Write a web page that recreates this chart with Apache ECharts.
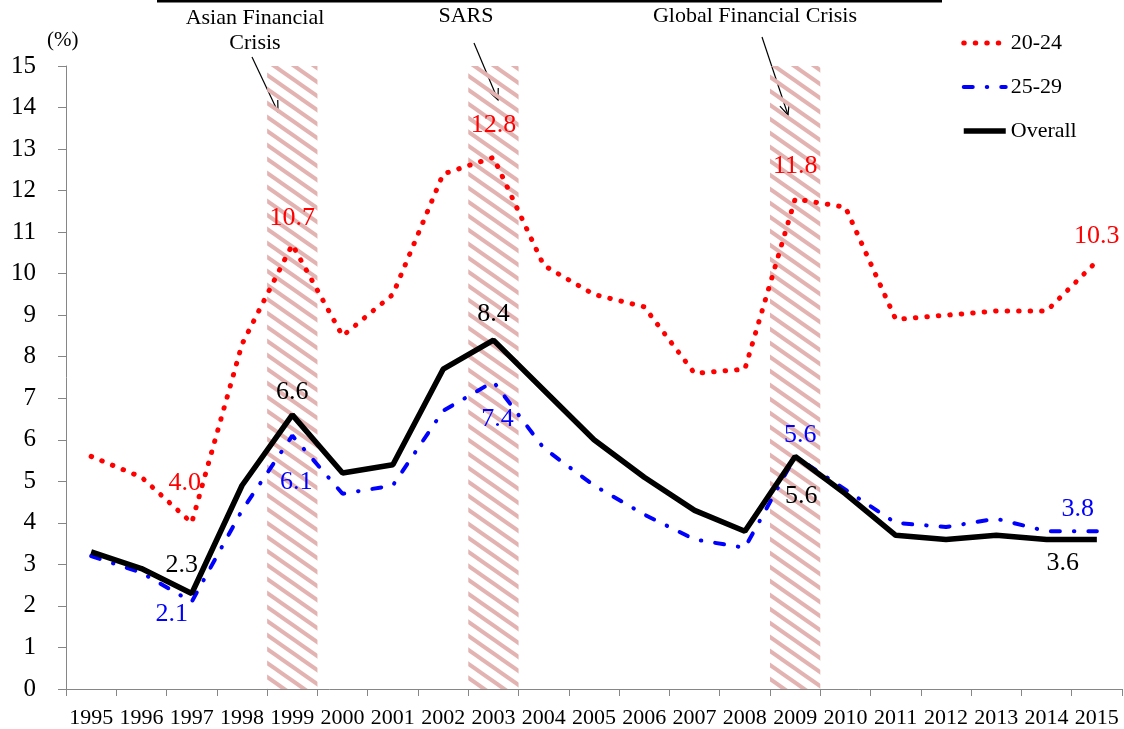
<!DOCTYPE html>
<html>
<head>
<meta charset="utf-8">
<script src="https://cdn.jsdelivr.net/npm/echarts@6/dist/echarts.min.js"></script>
<style>
html,body{margin:0;padding:0;background:#fff;}
#chart{width:1124px;height:729px;}
</style>
</head>
<body>
<div id="chart"></div>
<script>
// ---- data ----
const years = ['1995','1996','1997','1998','1999','2000','2001','2002','2003','2004','2005','2006','2007','2008','2009','2010','2011','2012','2013','2014','2015'];
const rate2024 = [5.6, 5.1, 4.0, 8.3, 10.7, 8.5, 9.5, 12.4, 12.8, 10.2, 9.5, 9.2, 7.6, 7.7, 11.8, 11.6, 8.9, 9.0, 9.1, 9.1, 10.3];
const rate2529 = [3.2, 2.8, 2.1, 4.3, 6.1, 4.7, 4.9, 6.7, 7.4, 5.8, 4.9, 4.2, 3.6, 3.4, 5.6, 4.8, 4.0, 3.9, 4.1, 3.8, 3.8];
const rateAll  = [3.3, 2.9, 2.3, 4.9, 6.6, 5.2, 5.4, 7.7, 8.4, 7.2, 6.0, 5.1, 4.3, 3.8, 5.6, 4.7, 3.7, 3.6, 3.7, 3.6, 3.6];
const crisisYears = ['1999', '2003', '2009'];
const seriesNames = ['20-24', '25-29', 'Overall'];
const yTicks = { min: 0, max: 15, interval: 1 };

// ---- label placement (style only) ----
const FONT = 'Liberation Serif, Times New Roman, serif';
const labelOffsets2024 = { 2: [-7, -40], 4: [0, -26], 8: [0, -32], 14: [0, -33], 20: [0, -25] };
const labelOffsets2529 = { 2: [-20, 12], 4: [4, 47], 8: [4, 38], 14: [5, -21], 20: [-19, -22] };
const labelOffsetsAll  = { 2: [-10, -28], 4: [0, -23], 8: [0, -26], 14: [6, 40], 20: [-34, 24] };

function buildData(values, offsets, color) {
  return values.map((v, i) => {
    if (!offsets[i]) return v;
    return {
      value: v,
      symbol: 'circle',
      symbolSize: 1,
      itemStyle: { color: 'rgba(0,0,0,0)' },
      label: {
        show: true,
        position: 'inside',
        offset: offsets[i],
        formatter: (p) => Number(p.value).toFixed(1),
        color: color,
        fontSize: 26,
        fontFamily: FONT
      }
    };
  });
}

// hatch pattern
const tile = document.createElement('canvas');
tile.width = 20; tile.height = 14;
const tctx = tile.getContext('2d');
tctx.strokeStyle = '#e3b3b2';
tctx.lineWidth = 4;
for (let k = -2; k <= 2; k++) {
  tctx.beginPath();
  tctx.moveTo(-20, -14 + k * 14);
  tctx.lineTo(40, 28 + k * 14);
  tctx.stroke();
}

function arrow(x1, y1, x2, y2) {
  const a = Math.atan2(y2 - y1, x2 - x1), L = 12, s = 0.42;
  return [
    { type: 'line', shape: { x1, y1, x2, y2 }, style: { stroke: '#000', lineWidth: 1.2 } },
    { type: 'polyline', shape: { points: [
      [x2 - L * Math.cos(a - s), y2 - L * Math.sin(a - s)], [x2, y2],
      [x2 - L * Math.cos(a + s), y2 - L * Math.sin(a + s)]] },
      style: { stroke: '#000', fill: null, lineWidth: 1.2 } }
  ];
}

const chart = echarts.init(document.getElementById('chart'), null, { renderer: 'canvas' });
const option = {
  animation: false,
  backgroundColor: '#fff',
  textStyle: { fontFamily: FONT },
  grid: { left: 66, right: 2, top: 66, bottom: 38 },
  legend: {
    data: seriesNames,
    orient: 'vertical',
    left: 961,
    top: 32,
    padding: 0,
    itemWidth: 42,
    itemHeight: 14,
    itemGap: 22,
    textStyle: { fontSize: 22, fontFamily: FONT, color: '#000' },
    lineStyle: { width: 'inherit' },
    itemStyle: { opacity: 0 }
  },
  xAxis: {
    type: 'category',
    data: years,
    boundaryGap: true,
    axisLine: { lineStyle: { color: '#868686', width: 1 } },
    axisTick: { show: true, length: 7, lineStyle: { color: '#868686' } },
    axisLabel: { interval: 0, fontSize: 22, fontFamily: FONT, color: '#000', margin: 18 },
    splitLine: { show: false }
  },
  yAxis: {
    type: 'value',
    min: yTicks.min, max: yTicks.max, interval: yTicks.interval,
    axisLine: { show: true, lineStyle: { color: '#868686', width: 1 } },
    axisTick: { show: true, length: 8, lineStyle: { color: '#868686' } },
    axisLabel: { fontSize: 25, fontFamily: FONT, color: '#000', margin: 30 },
    splitLine: { show: false }
  },
  series: [
    {
      name: 'crisis',
      type: 'bar',
      data: years.map(y => crisisYears.includes(y) ? yTicks.max : '-'),
      barWidth: '100%',
      barCategoryGap: 0,
      z: 1,
      silent: true,
      itemStyle: { color: { image: tile, repeat: 'repeat' } }
    },
    {
      name: seriesNames[0],
      type: 'line',
      symbol: 'none',
      data: buildData(rate2024, labelOffsets2024, '#ff0000'),
      lineStyle: { color: '#ff0000', width: 5, type: [0.5, 11], cap: 'round' },
      itemStyle: { color: '#ff0000' },
      z: 3
    },
    {
      name: seriesNames[1],
      type: 'line',
      symbol: 'none',
      data: buildData(rate2529, labelOffsets2529, '#0000ff'),
      lineStyle: { color: '#0000ff', width: 4, type: [9, 14, 0.5, 14], cap: 'round' },
      itemStyle: { color: '#0000ff' },
      z: 3
    },
    {
      name: seriesNames[2],
      type: 'line',
      symbol: 'none',
      data: buildData(rateAll, labelOffsetsAll, '#000000'),
      lineStyle: { color: '#000000', width: 5.5 },
      itemStyle: { color: '#000000' },
      z: 4
    }
  ],
  graphic: [
    { type: 'rect', shape: { x: 157, y: 0, width: 785, height: 2.5 }, style: { fill: '#000' } },
    { type: 'text', left: 47, top: 30, style: { text: '(%)', font: '21px ' + FONT, fill: '#000' } },
    { type: 'text', x: 255, y: 6, style: { text: 'Asian Financial\nCrisis', font: '22px ' + FONT, fill: '#000', align: 'center', lineHeight: 25 } },
    { type: 'text', x: 466, y: 5, style: { text: 'SARS', font: '22px ' + FONT, fill: '#000', align: 'center' } },
    { type: 'text', x: 755, y: 5, style: { text: 'Global Financial Crisis', font: '22px ' + FONT, fill: '#000', align: 'center' } },
    ...arrow(252, 57, 278, 112),
    ...arrow(474, 43, 498, 100),
    ...arrow(762, 37, 788, 115)
  ]
};
chart.setOption(option);
</script>
</body>
</html>
